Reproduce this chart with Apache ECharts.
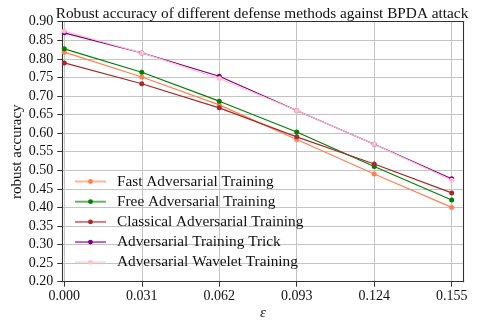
<!DOCTYPE html>
<html>
<head>
<meta charset="utf-8">
<script src="https://cdn.jsdelivr.net/npm/echarts@6/dist/echarts.min.js"></script>
<style>
html,body{margin:0;padding:0;background:#fff;}
#chart{width:477px;height:320px;}
</style>
</head>
<body>
<div id="chart"></div>
<script>
const epsilons = [0.000, 0.031, 0.062, 0.093, 0.124, 0.155];
const xTickLabels = ['0.000', '0.031', '0.062', '0.093', '0.124', '0.155'];
const fastAdv = [0.818, 0.751, 0.676, 0.583, 0.490, 0.400];
const freeAdv = [0.827, 0.764, 0.686, 0.603, 0.510, 0.420];
const classicalAdv = [0.789, 0.733, 0.668, 0.590, 0.517, 0.439];
const advTrick = [0.870, 0.816, 0.753, 0.661, 0.570, 0.477];
const advWavelet = [0.875, 0.816, 0.747, 0.661, 0.570, 0.473];
const seriesNames = ['Fast Adversarial Training', 'Free Adversarial Training', 'Classical Adversarial Training', 'Adversarial Training Trick', 'Adversarial Wavelet Training'];
const seriesColors = ['#FF7F50', '#008000', '#A52A2A', '#800080', '#FFC0CB'];
const seriesValues = [fastAdv, freeAdv, classicalAdv, advTrick, advWavelet];

const FONT = '"Liberation Serif", "DejaVu Serif", serif';
const SPINE = '#333333';
const GRID = '#c4c4c4';

const chart = echarts.init(document.getElementById('chart'), null, {renderer: 'canvas'});

const series = seriesNames.map((name, i) => ({
  name: name,
  type: 'line',
  xAxisIndex: 0,
  yAxisIndex: 0,
  data: epsilons.map((e, j) => [e, seriesValues[i][j]]),
  symbol: 'circle',
  symbolSize: 5,
  showSymbol: true,
  color: seriesColors[i],
  lineStyle: {width: 1.2, color: seriesColors[i]},
  itemStyle: {color: seriesColors[i]},
  emphasis: {disabled: true},
  animation: false
}));

const option = {
  backgroundColor: '#ffffff',
  animation: false,
  title: {
    text: 'Robust accuracy of different defense methods against BPDA attack',
    left: 257,
    textAlign: 'center',
    top: 1,
    textStyle: {fontFamily: FONT, fontSize: 15.3, fontWeight: 'normal', color: '#111'}
  },
  legend: {
    orient: 'vertical',
    left: 69,
    top: 169,
    padding: 5,
    itemWidth: 31,
    itemHeight: 6,
    itemGap: 5.2,
    data: seriesNames,
    textStyle: {fontFamily: FONT, fontSize: 15.3, lineHeight: 14, color: '#111', padding: [0, 0, 0, 6]},
    lineStyle: {width: 2, opacity: 0.6},
    itemStyle: {opacity: 1},
    selectedMode: false
  },
  grid: {left: 62.3, right: 13.3, top: 21.7, bottom: 38.3, containLabel: false, outerBoundsMode: 'none'},
  xAxis: [{
    type: 'value',
    min: -0.0008,
    max: 0.1598,
    position: 'bottom',
    name: 'ε',
    nameLocation: 'middle',
    nameGap: 24,
    nameMoveOverlap: false,
    nameTextStyle: {fontFamily: FONT, fontSize: 15, fontStyle: 'italic', color: '#111'},
    axisLine: {show: true, onZero: false, lineStyle: {color: SPINE, width: 1.1}},
    axisTick: {show: true, inside: false, length: 5, customValues: epsilons, lineStyle: {color: SPINE, width: 1}},
    axisLabel: {
      customValues: epsilons,
      margin: 8,
      fontFamily: FONT, fontSize: 14, color: '#111',
      formatter: function (v) { const k = epsilons.indexOf(v); return k >= 0 ? xTickLabels[k] : v.toFixed(3); }
    },
    splitLine: {show: true, lineStyle: {color: GRID, width: 1}}
  }, {
    type: 'value',
    min: -0.0008,
    max: 0.1598,
    position: 'top',
    axisLine: {show: true, onZero: false, lineStyle: {color: SPINE, width: 1.1}},
    axisTick: {show: false},
    axisLabel: {show: false},
    splitLine: {show: false}
  }],
  yAxis: [{
    type: 'value',
    min: 0.2,
    max: 0.9,
    interval: 0.05,
    position: 'left',
    name: 'robust accuracy',
    nameLocation: 'middle',
    nameGap: 38,
    nameMoveOverlap: false,
    nameTextStyle: {fontFamily: FONT, fontSize: 15, color: '#111'},
    axisLine: {show: true, onZero: false, lineStyle: {color: SPINE, width: 1.1}},
    axisTick: {show: true, inside: false, length: 5, lineStyle: {color: SPINE, width: 1}},
    axisLabel: {
      margin: 9,
      fontFamily: FONT, fontSize: 14, color: '#111',
      formatter: function (v) { return v.toFixed(2); }
    },
    splitLine: {show: true, lineStyle: {color: GRID, width: 1}}
  }, {
    type: 'value',
    min: 0.2,
    max: 0.9,
    interval: 0.05,
    position: 'right',
    axisLine: {show: true, onZero: false, lineStyle: {color: SPINE, width: 1.1}},
    axisTick: {show: false},
    axisLabel: {show: false},
    splitLine: {show: false}
  }],
  series: series
};

chart.setOption(option);
</script>
</body>
</html>
